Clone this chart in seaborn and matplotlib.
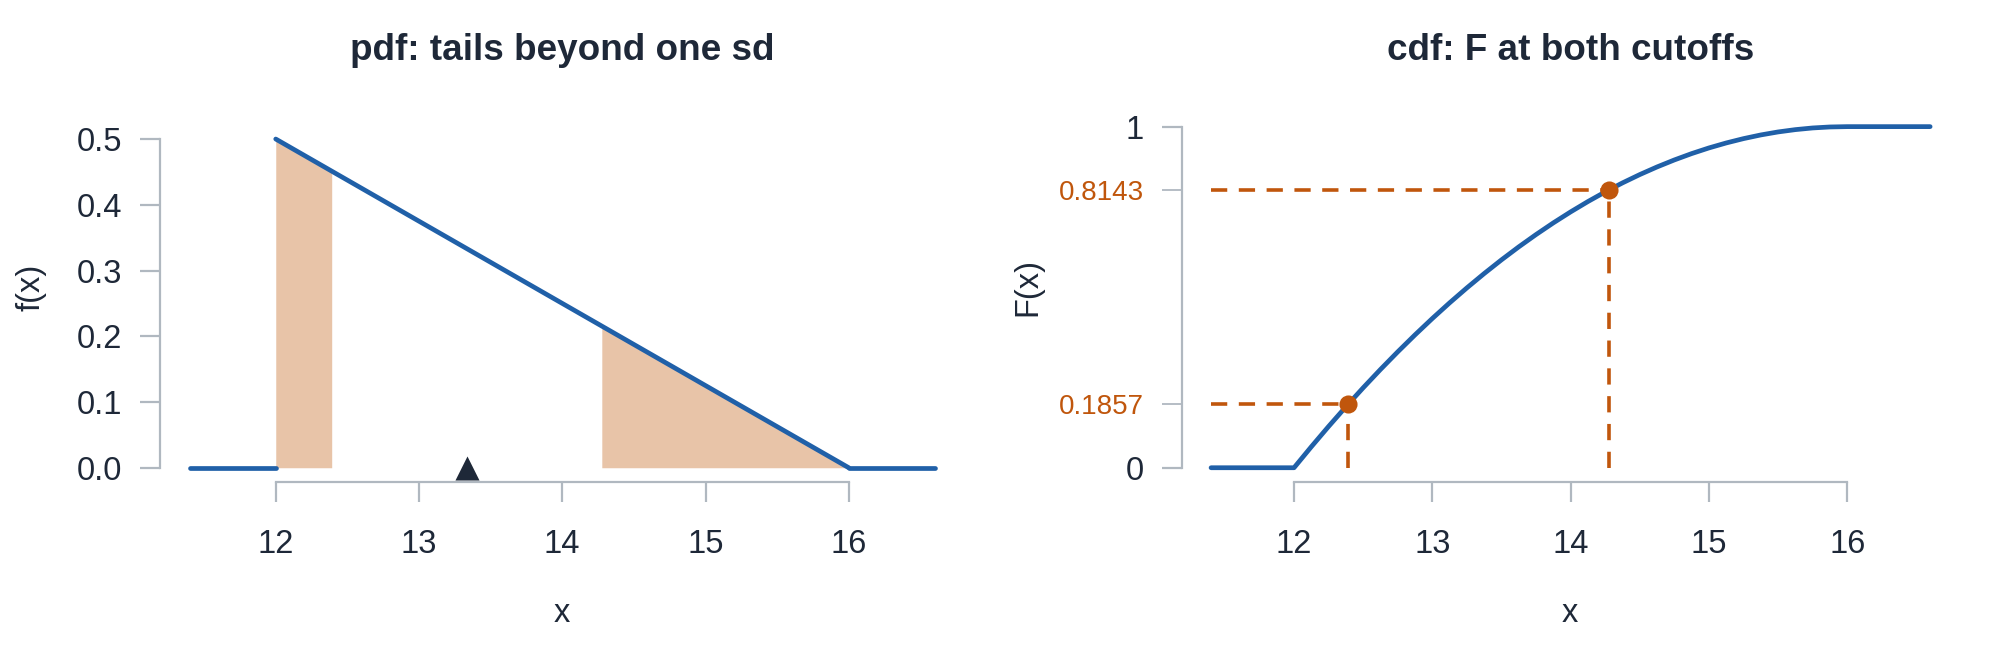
import matplotlib
matplotlib.use("Agg")
import matplotlib.pyplot as plt
import seaborn as sns

# ---------------- data ----------------
x_ticks = [12, 13, 14, 15, 16]
x_ticklabels = ["12", "13", "14", "15", "16"]

pdf_left_x = [11.4, 12.0]
pdf_left_y = [0.0, 0.0]
pdf_slope_x = [12.0, 16.0]
pdf_slope_y = [0.5, 0.0]
pdf_right_x = [16.0, 16.6]
pdf_right_y = [0.0, 0.0]

lower_tail_x = [12.0, 12.3905]
lower_tail_y = [0.5, 0.4512]
upper_tail_x = [14.2761, 16.0]
upper_tail_y = [0.2155, 0.0]

mean_x = [13.3333]
mean_y = [0.0]

pdf_yticks = [0.0, 0.1, 0.2, 0.3, 0.4, 0.5]
pdf_yticklabels = ["0.0", "0.1", "0.2", "0.3", "0.4", "0.5"]

cdf_x = [11.4, 12.0, 12.125, 12.25, 12.375, 12.5, 12.625, 12.75, 12.875,
         13.0, 13.125, 13.25, 13.375, 13.5, 13.625, 13.75, 13.875,
         14.0, 14.125, 14.25, 14.375, 14.5, 14.625, 14.75, 14.875,
         15.0, 15.125, 15.25, 15.375, 15.5, 15.625, 15.75, 15.875, 16.0, 16.6]
cdf_y = [0.0, 0.0, 0.0615, 0.1211, 0.1787, 0.2344, 0.2881, 0.3398, 0.3896,
         0.4375, 0.4834, 0.5273, 0.5693, 0.6094, 0.6475, 0.6836, 0.7178,
         0.75, 0.7803, 0.8086, 0.8350, 0.8594, 0.8818, 0.9023, 0.9209,
         0.9375, 0.9521, 0.9648, 0.9756, 0.9844, 0.9912, 0.9961, 0.9990, 1.0, 1.0]

cutoff_x = [12.3905, 14.2761]
cutoff_F = [0.1857, 0.8143]
cdf_yticks = [0.0, 0.1857, 0.8143, 1.0]
cdf_yticklabels = ["0", "0.1857", "0.8143", "1"]
cdf_tick_highlight = [False, True, True, False]

# ---------------- style ----------------
BLUE = "#2060A8"
PEACH = "#E8C4A8"
ORANGE = "#C0560C"
NAVY = "#1E2838"
GREY = "#B0B8C0"

sns.set_theme(style="white")
plt.rcParams['font.family'] = ['Liberation Sans', 'DejaVu Sans']

W, H = 1996, 652
fig = plt.figure(figsize=(W / 100, H / 100), dpi=100)

top_px, bot_px = 91.7, 482.2
ax_b = (H - bot_px) / H
ax_h = (bot_px - top_px) / H
ax1 = fig.add_axes([160 / W, ax_b, 804.5 / W, ax_h])
ax2 = fig.add_axes([1182.3 / W, ax_b, 776.6 / W, ax_h])

TICK_FS = 23.5
LW = 3.4


def style_axes(ax, ybounds):
    for s in ["top", "right"]:
        ax.spines[s].set_visible(False)
    for s in ["left", "bottom"]:
        ax.spines[s].set_color(GREY)
        ax.spines[s].set_linewidth(1.6)
    ax.spines["left"].set_bounds(*ybounds)
    ax.spines["bottom"].set_bounds(12, 16)
    ax.set_xticks(x_ticks)
    ax.set_xticklabels(x_ticklabels)
    ax.tick_params(axis="both", which="major", direction="out", length=14.4, width=1.6,
                   color=GREY, labelsize=TICK_FS, labelcolor=NAVY,
                   bottom=True, left=True, top=False, right=False)
    ax.tick_params(axis="x", pad=19)
    ax.tick_params(axis="y", pad=13)
    ax.set_xlim(11.192, 16.808)
    ax.set_xlabel("")
    ax.set_ylabel("")
    ax.grid(False)
    ax.set_facecolor("white")


# ---------------- left: pdf ----------------
ax1.fill_between(lower_tail_x, lower_tail_y, 0, color=PEACH, lw=0, zorder=1)
ax1.fill_between(upper_tail_x, upper_tail_y, 0, color=PEACH, lw=0, zorder=1)
for xs, ys in [(pdf_left_x, pdf_left_y), (pdf_slope_x, pdf_slope_y), (pdf_right_x, pdf_right_y)]:
    sns.lineplot(x=xs, y=ys, ax=ax1, color=BLUE, lw=LW, estimator=None, sort=False,
                 solid_capstyle="round", zorder=3)
sns.scatterplot(x=mean_x, y=mean_y, ax=ax1, marker="^", s=300, color=NAVY,
                linewidth=0, zorder=4)
ax1.set_ylim(-0.022, 0.572)
ax1.set_yticks(pdf_yticks)
ax1.set_yticklabels(pdf_yticklabels)
style_axes(ax1, (0, 0.5))

# ---------------- right: cdf ----------------
for cx, cf in zip(cutoff_x, cutoff_F):
    sns.lineplot(x=[cdf_x[0], cx], y=[cf, cf], ax=ax2, color=ORANGE, lw=2.6,
                 estimator=None, sort=False, zorder=2).lines[-1].set_dashes([4.5, 3.2])
    sns.lineplot(x=[cx, cx], y=[0, cf], ax=ax2, color=ORANGE, lw=2.6,
                 estimator=None, sort=False, zorder=2).lines[-1].set_dashes([4.5, 3.2])
sns.lineplot(x=cdf_x, y=cdf_y, ax=ax2, color=BLUE, lw=LW, estimator=None, sort=False,
             solid_capstyle="round", zorder=3)
sns.scatterplot(x=cutoff_x, y=cutoff_F, ax=ax2, s=170, color=ORANGE, linewidth=0, zorder=4)
ax2.set_ylim(-0.0424, 1.1024)
ax2.set_yticks(cdf_yticks)
ax2.set_yticklabels(cdf_yticklabels)
style_axes(ax2, (0, 1))
for tick, hl in zip(ax2.yaxis.get_major_ticks(), cdf_tick_highlight):
    if hl:
        tick.tick1line.set_color(ORANGE)
        tick.tick1line.set_markeredgewidth(1.3)
        tick.label1.set_color(ORANGE)
        tick.label1.set_fontsize(20)

# ---------------- text ----------------
def fx(px):
    return px / W


def fy(py):
    return (H - py) / H


fig.text(fx(562), fy(60), "pdf: tails beyond one sd", ha="center", va="baseline",
         fontsize=26.6, fontweight="bold", color=NAVY)
fig.text(fx(1571), fy(60), "cdf: F at both cutoffs", ha="center", va="baseline",
         fontsize=26.6, fontweight="bold", color=NAVY)
fig.text(fx(562), fy(613), "x", ha="center", va="center", fontsize=TICK_FS, color=NAVY)
fig.text(fx(1570), fy(613), "x", ha="center", va="center", fontsize=TICK_FS, color=NAVY)
fig.text(fx(31), fy(287), "f(x)", ha="center", va="center", rotation=90,
         fontsize=TICK_FS, color=NAVY)
fig.text(fx(1028), fy(287), "F(x)", ha="center", va="center", rotation=90,
         fontsize=TICK_FS, color=NAVY)

fig.savefig("out.png", dpi=100, facecolor="white")
